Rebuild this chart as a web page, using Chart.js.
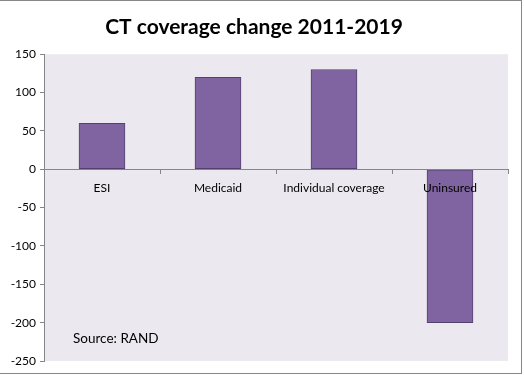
<!DOCTYPE html>
<html>
<head>
<meta charset="utf-8">
<script src="https://cdn.jsdelivr.net/npm/chart.js@4"></script>
<style>
  html, body { margin: 0; padding: 0; background: #fff; overflow: hidden; }
  #wrap { position: relative; width: 524px; height: 375px; }
  #frame { position: absolute; left: -1px; top: 0; width: 521px; height: 372px; border: 1px solid #878787; pointer-events: none; }
</style>
</head>
<body>
<div id="wrap">
  <canvas id="coverageChart" width="524" height="375"></canvas>
  <div id="frame"></div>
</div>
<script>
// data
const categories = ['ESI', 'Medicaid', 'Individual coverage', 'Uninsured'];
const coverageChange = [60, 120, 130, -200];
const sourceNote = 'Source: RAND';

const ctx = document.getElementById('coverageChart').getContext('2d');

// grey plot background + the source note
const plotArea = {
    id: 'plotArea',
    beforeDraw(chart) {
        const a = chart.chartArea;
        const c = chart.ctx;
        c.save();
        c.fillStyle = '#EBE9EF';
        c.fillRect(a.left, a.top, a.right - a.left, a.bottom - a.top);
        c.restore();
    },
    afterDraw(chart) {
        const c = chart.ctx;
        c.save();
        c.fillStyle = '#000';
        c.font = '13.5px Lato';
        c.textBaseline = 'middle';
        c.fillText(sourceNote, 73, 339);
        c.restore();
    }
};

new Chart(ctx, {
    type: 'bar',
    data: {
        labels: categories,
        datasets: [{
            data: coverageChange,
            backgroundColor: '#8064A2',
            borderColor: '#54406F',
            borderWidth: 1,
            borderSkipped: false,
            barThickness: 46
        }]
    },
    options: {
        responsive: false,
        animation: false,
        layout: {
            padding: { left: 0, right: 16, top: 0, bottom: 14 }
        },
        plugins: {
            legend: { display: false },
            tooltip: { enabled: false },
            title: {
                display: true,
                text: 'CT coverage change 2011-2019',
                color: '#000',
                font: { family: 'Lato', size: 21, weight: 'bold' },
                padding: { top: 15, bottom: 14 }
            }
        },
        scales: {
            x: {
                position: { y: 0 },
                grid: {
                    drawOnChartArea: false,
                    drawTicks: true,
                    tickLength: 4,
                    color: '#868686',
                    z: 1
                },
                border: { display: true, color: '#868686', z: 1 },
                ticks: {
                    color: '#000',
                    font: { family: 'Lato', size: 12 },
                    padding: 8,
                    maxRotation: 0,
                    z: 1
                }
            },
            y: {
                min: -250,
                max: 150,
                afterFit(scale) { scale.width = 44; },
                grid: {
                    drawOnChartArea: false,
                    drawTicks: true,
                    tickLength: 4,
                    color: '#868686'
                },
                border: { display: true, color: '#868686' },
                ticks: {
                    stepSize: 50,
                    color: '#000',
                    font: { family: 'Lato', size: 12 },
                    padding: 4
                }
            }
        }
    },
    plugins: [plotArea]
});
</script>
</body>
</html>
